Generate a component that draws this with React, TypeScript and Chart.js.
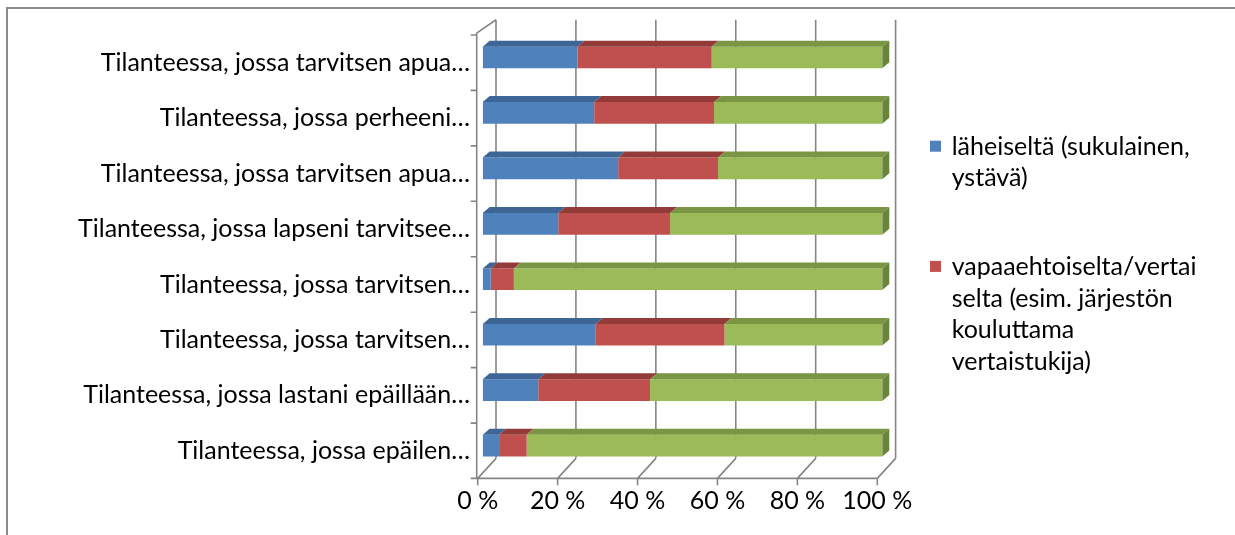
import React, { useEffect, useRef } from "react";
import { Chart, registerables } from "chart.js";

Chart.register(...registerables);

// ---------- data ----------
const categories = [
  "Tilanteessa, jossa tarvitsen apua…",
  "Tilanteessa, jossa perheeni…",
  "Tilanteessa, jossa tarvitsen apua…",
  "Tilanteessa, jossa lapseni tarvitsee…",
  "Tilanteessa, jossa tarvitsen…",
  "Tilanteessa, jossa tarvitsen…",
  "Tilanteessa, jossa lastani epäillään…",
  "Tilanteessa, jossa epäilen…",
];

const laheiselta = [23.7, 27.9, 33.9, 18.9, 2.0, 28.3, 13.9, 4.1];
const vapaaehtoiselta = [33.6, 30.0, 25.0, 28.0, 5.8, 32.2, 28.0, 6.9];
const ammattilaiselta = [42.7, 42.1, 41.1, 53.1, 92.2, 39.5, 58.1, 89.0];

const seriesNames = [
  "läheiseltä (sukulainen, ystävä)",
  "vapaaehtoiselta/vertaiselta (esim. järjestön kouluttama vertaistukija)",
  "ammattilaiselta",
];
const legendLines = [
  ["läheiseltä (sukulainen,", "ystävä)"],
  ["vapaaehtoiselta/vertai", "selta (esim. järjestön", "kouluttama", "vertaistukija)"],
];

const xTickValues = [0, 20, 40, 60, 80, 100];

// ---------- styles ----------
const FONT_FAMILY = "Lato, 'Noto Sans', sans-serif";
const FONT_SIZE = 25;
const frontColors = ["#4f81bd", "#c0504d", "#9bbb59"];
const topColors = ["#3d6697", "#933b39", "#7a9543"];
const sideColor = "#6a8538";
const lineGray = "#858585";

const DX = 7;
const DY = 6;

const framePlugin = {
  id: "frame3d",
  beforeDraw(chart: any) {
    const { ctx } = chart;
    ctx.save();
    ctx.fillStyle = "#ffffff";
    ctx.fillRect(0, 0, chart.width, chart.height);
    ctx.strokeStyle = "#8a8a8a";
    ctx.lineWidth = 2;
    ctx.beginPath();
    ctx.moveTo(7, chart.height + 5);
    ctx.lineTo(7, 8);
    ctx.lineTo(chart.width + 5, 8);
    ctx.stroke();
    ctx.restore();
  },
  beforeDatasetsDraw(chart: any) {
    const { ctx } = chart;
    const xs = chart.scales.x;
    const ys = chart.scales.y;
    const front = (v: number) => xs.getPixelForValue(v) - 5;
    const back = (v: number) => front(v) + 18.3;
    const band = (ys.bottom - ys.top) / categories.length;
    const frontTop = ys.top + 3.3;
    const frontBottom = ys.bottom + 5;
    const backTop = ys.top - 10;
    const backBottom = ys.bottom - 15;
    const wallX = front(0) - 1;

    ctx.save();
    ctx.strokeStyle = lineGray;
    ctx.lineWidth = 1.6;
    ctx.beginPath();
    // back wall gridlines
    xTickValues.forEach((v) => {
      ctx.moveTo(back(v), backTop);
      ctx.lineTo(back(v), backBottom);
    });
    // floor diagonals + ticks
    xTickValues.forEach((v) => {
      ctx.moveTo(front(v), frontBottom);
      ctx.lineTo(back(v), backBottom);
      ctx.moveTo(front(v), frontBottom);
      ctx.lineTo(front(v), frontBottom + 7);
    });
    // floor front edge
    ctx.moveTo(wallX - 6, frontBottom);
    ctx.lineTo(front(100), frontBottom);
    // left wall
    ctx.moveTo(wallX, frontBottom);
    ctx.lineTo(wallX, frontTop);
    ctx.lineTo(back(0), backTop);
    // y tick marks
    for (let k = 0; k <= categories.length; k++) {
      const y = ys.top + 5.2 + k * band;
      ctx.moveTo(wallX - 6, y);
      ctx.lineTo(wallX, y);
    }
    ctx.stroke();
    ctx.restore();
  },
  afterDatasetsDraw(chart: any) {
    const { ctx } = chart;
    const n = chart.data.datasets.length;
    ctx.save();
    const poly = (pts: number[][]) => {
      ctx.beginPath();
      ctx.moveTo(pts[0][0], pts[0][1]);
      for (let i = 1; i < pts.length; i++) ctx.lineTo(pts[i][0], pts[i][1]);
      ctx.closePath();
      ctx.fill();
    };
    for (let i = 0; i < n; i++) {
      const meta = chart.getDatasetMeta(i);
      meta.data.forEach((el: any) => {
        const p = el.getProps(["x", "y", "base", "height"], true);
        const x0 = Math.min(p.x, p.base);
        const x1 = Math.max(p.x, p.base);
        const t = p.y - p.height / 2;
        const b = p.y + p.height / 2;
        if (x1 - x0 <= 0) return;
        ctx.fillStyle = topColors[i];
        poly([[x0, t], [x1, t], [x1 + DX, t - DY], [x0 + DX, t - DY]]);
        if (i === n - 1) {
          ctx.fillStyle = sideColor;
          poly([[x1, t], [x1 + DX, t - DY], [x1 + DX, b - DY], [x1, b]]);
        }
      });
    }
    ctx.restore();
  },
  afterDraw(chart: any) {
    const { ctx } = chart;
    ctx.save();
    ctx.font = `${FONT_SIZE}px ${FONT_FAMILY}`;
    ctx.textBaseline = "middle";
    ctx.textAlign = "left";
    const lineH = 31.6;
    const gap = 57;
    let y = 146.7;
    legendLines.forEach((lines, i) => {
      ctx.fillStyle = chart.data.datasets[i].backgroundColor;
      ctx.fillRect(930, y - 6, 11, 11);
      ctx.fillStyle = "#000000";
      lines.forEach((ln, j) => {
        ctx.fillText(ln, 951.7, y + j * lineH);
      });
      y += lines.length * lineH + gap;
    });
    ctx.restore();
  },
};

export default function App() {
  const ref = useRef<HTMLCanvasElement>(null);

  useEffect(() => {
    const canvas = ref.current;
    if (!canvas) return;
    const font = { family: FONT_FAMILY, size: FONT_SIZE };
    const chart = new Chart(canvas, {
      type: "bar",
      data: {
        labels: categories,
        datasets: [
          { label: seriesNames[0], data: laheiselta, backgroundColor: frontColors[0] },
          { label: seriesNames[1], data: vapaaehtoiselta, backgroundColor: frontColors[1] },
          { label: seriesNames[2], data: ammattilaiselta, backgroundColor: frontColors[2] },
        ],
      },
      options: {
        responsive: false,
        animation: false,
        indexAxis: "y",
        datasets: { bar: { barPercentage: 0.39, categoryPercentage: 1, borderWidth: 0 } },
        layout: { padding: { left: 0, top: 29.75, right: 352.7, bottom: 0 } },
        plugins: { legend: { display: false }, tooltip: { enabled: false } },
        scales: {
          x: {
            stacked: true,
            min: 0,
            max: 100,
            afterBuildTicks: (s: any) => {
              s.ticks = xTickValues.map((v) => ({ value: v }));
            },
            afterFit: (s: any) => {
              s.height = 535 - 473.35;
            },
            ticks: {
              callback: (v: any) => `${v} %`,
              labelOffset: -5,
              padding: 13,
              color: "#000000",
              font,
              maxRotation: 0,
              autoSkip: false,
            },
            grid: { display: false, drawTicks: false },
            border: { display: false },
          },
          y: {
            stacked: true,
            afterFit: (s: any) => {
              s.width = 482.7;
            },
            ticks: {
              labelOffset: 5.2,
              padding: 12.7,
              color: "#000000",
              font,
              autoSkip: false,
            },
            grid: { display: false, drawTicks: false },
            border: { display: false },
          },
        },
      } as any,
      plugins: [framePlugin],
    });
    return () => chart.destroy();
  }, []);

  return (
    <div
      style={{
        position: "fixed",
        left: 0,
        top: 0,
        width: 1235,
        height: 535,
        overflow: "hidden",
        background: "#ffffff",
      }}
    >
      <canvas ref={ref} width={1235} height={535} style={{ display: "block" }} />
    </div>
  );
}
